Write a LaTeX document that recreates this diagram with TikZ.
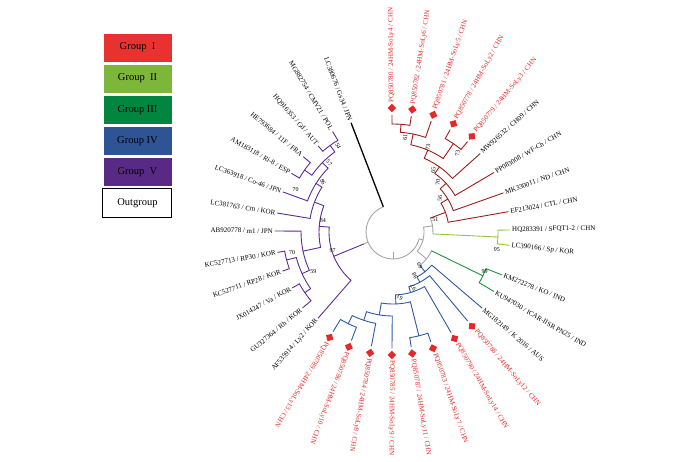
\documentclass[tikz,border=0pt]{standalone}
\usepackage{fontspec}
\setmainfont{Liberation Serif}
\definecolor{redI}{RGB}{230,40,40}
\definecolor{legI}{RGB}{232,50,48}
\definecolor{legII}{RGB}{124,182,58}
\definecolor{legIII}{RGB}{0,134,62}
\definecolor{legIV}{RGB}{46,84,150}
\definecolor{legV}{RGB}{88,42,134}
\definecolor{brI}{RGB}{158,30,30}
\definecolor{brII}{RGB}{141,198,63}
\definecolor{brIII}{RGB}{22,150,62}
\definecolor{brIV}{RGB}{46,90,160}
\definecolor{brV}{RGB}{92,45,145}
\definecolor{rootgray}{RGB}{165,165,165}

\begin{document}
\begin{tikzpicture}[x=1pt,y=1pt,
  legbox/.style={draw=white, line width=0.6pt, minimum width=69pt, minimum height=29pt, inner sep=0pt, font=\fontsize{10.5}{12}\selectfont},
  bI/.style={draw=brI, line width=0.9pt, line cap=round},
  bII/.style={draw=brII, line width=0.9pt, line cap=round},
  bIII/.style={draw=brIII, line width=0.9pt, line cap=round},
  bIV/.style={draw=brIV, line width=0.9pt, line cap=round},
  bV/.style={draw=brV, line width=0.9pt, line cap=round},
  bR/.style={draw=rootgray, line width=0.9pt, line cap=round},
  lf/.style={font=\fontsize{7}{8}\selectfont, inner sep=1pt},
  pq/.style={lf, text=redI},
  dm/.style={fill=redI, rectangle, minimum size=6pt, inner sep=0pt},
  bs/.style={font=\fontsize{6}{7}\selectfont, inner sep=0.5pt}]
  \useasboundingbox (-393,-229) rectangle (307,232);

  \node[legbox, fill=legI] (legI) at (-255.5,184.5) {Group\ \ I};
  \node[legbox, fill=legII] (legII) at (-255.5,153.4) {Group\ \ II};
  \node[legbox, fill=legIII] (legIII) at (-255.5,122.3) {Group\ III};
  \node[legbox, fill=legIV] (legIV) at (-255.5,91.2) {Group\ IV};
  \node[legbox, fill=legV] (legV) at (-255.5,60.1) {Group\ \ V};
  \node[legbox, draw=black, line width=1pt, fill=white] (legOut) at (-255.5,29) {Outgroup};

  \draw[bR] (270:20) -- (270:27);
  \draw[bR] (111:27) arc[start angle=111, end angle=345.15, radius=27];
  \draw[line width=1.3pt] (111:27) -- (111:117);
  \draw[bR] (-14.85:27) -- (-14.85:31);
  \draw[bR] (-38.6:31) arc[start angle=-38.6, end angle=8.9, radius=31];
  \draw[bR] (8.9:31) -- (8.9:40);
  \draw[bR] (-2.75:40) arc[start angle=-2.75, end angle=20.5, radius=40];
  \draw[bR] (-38.6:31) -- (-38.6:43);
  \draw[bR] (-51.2:43) arc[start angle=-51.2, end angle=-26, radius=43];
  \draw[bR] (202.3:27) -- (202.3:32);

  \draw[bI] (20.5:40) -- (20.5:56);
  \draw[bI] (10:56) arc[start angle=10, end angle=31, radius=56];
  \draw[bI] (10:56) -- (10:117);
  \draw[bI] (31:56) -- (31:64);
  \draw[bI] (19.5:64) arc[start angle=19.5, end angle=42.5, radius=64];
  \draw[bI] (19.5:64) -- (19.5:117);
  \draw[bI] (42.5:64) -- (42.5:72);
  \draw[bI] (30.5:72) arc[start angle=30.5, end angle=54.5, radius=72];
  \draw[bI] (30.5:72) -- (30.5:117);
  \draw[bI] (54.5:72) -- (54.5:80);
  \draw[bI] (42:80) arc[start angle=42, end angle=67, radius=80];
  \draw[bI] (42:80) -- (42:117);
  \draw[bI] (67:80) -- (67:89);
  \draw[bI] (55.65:89) arc[start angle=55.65, end angle=78.4, radius=89];
  \draw[bI] (55.65:89) -- (55.65:107);
  \draw[bI] (50.5:107) arc[start angle=50.5, end angle=60.8, radius=107];
  \draw[bI] (50.5:107) -- (50.5:117);
  \draw[bI] (60.8:107) -- (60.8:117);
  \draw[bI] (78.4:89) -- (78.4:100);
  \draw[bI] (71:100) arc[start angle=71, end angle=85.75, radius=100];
  \draw[bI] (71:100) -- (71:117);
  \draw[bI] (85.75:100) -- (85.75:108);
  \draw[bI] (81:108) arc[start angle=81, end angle=90.5, radius=108];
  \draw[bI] (81:108) -- (81:117);
  \draw[bI] (90.5:108) -- (90.5:117);

  \draw[bII] (-2.75:40) -- (-2.75:105);
  \draw[bII] (-6.5:105) arc[start angle=-6.5, end angle=1, radius=105];
  \draw[bII] (1:105) -- (1:117);
  \draw[bII] (-6.5:105) -- (-6.5:117);

  \draw[bIII] (-26:43) -- (-26:100);
  \draw[bIII] (-30.5:100) arc[start angle=-30.5, end angle=-21.5, radius=100];
  \draw[bIII] (-21.5:100) -- (-21.5:117);
  \draw[bIII] (-30.5:100) -- (-30.5:117);

  \draw[bIV] (-51.2:43) -- (-51.2:51);
  \draw[bIV] (-61.9:51) arc[start angle=-61.9, end angle=-40.5, radius=51];
  \draw[bIV] (-40.5:51) -- (-40.5:117);
  \draw[bIV] (-61.9:51) -- (-61.9:57);
  \draw[bIV] (-73.85:57) arc[start angle=-73.85, end angle=-50, radius=57];
  \draw[bIV] (-50:57) -- (-50:116);
  \draw[bIV] (-73.85:57) -- (-73.85:63);
  \draw[bIV] (-87.7:63) arc[start angle=-87.7, end angle=-60, radius=63];
  \draw[bIV] (-60:63) -- (-60:116);
  \draw[bIV] (-87.7:63) -- (-87.7:72);
  \draw[bIV] (-99.4:72) arc[start angle=-99.4, end angle=-76, radius=72];
  \draw[bIV] (-76:72) -- (-76:107);
  \draw[bIV] (-81:107) arc[start angle=-81, end angle=-71, radius=107];
  \draw[bIV] (-71:107) -- (-71:116);
  \draw[bIV] (-81:107) -- (-81:116);
  \draw[bIV] (-99.4:72) -- (-99.4:84);
  \draw[bIV] (-108.35:84) arc[start angle=-108.35, end angle=-90.5, radius=84];
  \draw[bIV] (-90.5:84) -- (-90.5:116);
  \draw[bIV] (-108.35:84) -- (-108.35:93);
  \draw[bIV] (-116:93) arc[start angle=-116, end angle=-100.7, radius=93];
  \draw[bIV] (-100.7:93) -- (-100.7:116);
  \draw[bIV] (-116:93) -- (-116:102);
  \draw[bIV] (-121:102) arc[start angle=-121, end angle=-111, radius=102];
  \draw[bIV] (-111:102) -- (-111:116);
  \draw[bIV] (-121:102) -- (-121:116);

  \draw[bV] (202.3:32) -- (202.3:64);
  \draw[bV] (175.6:64) arc[start angle=175.6, end angle=229, radius=64];
  \draw[bV] (229:64) -- (229:114);
  \draw[bV] (175.6:64) -- (175.6:74);
  \draw[bV] (159.2:74) arc[start angle=159.2, end angle=192, radius=74];
  \draw[bV] (192:74) -- (192:92);
  \draw[bV] (179.5:92) arc[start angle=179.5, end angle=204.6, radius=92];
  \draw[bV] (179.5:92) -- (179.5:118);
  \draw[bV] (204.6:92) -- (204.6:100);
  \draw[bV] (194.75:100) arc[start angle=194.75, end angle=214.5, radius=100];
  \draw[bV] (194.75:100) -- (194.75:110);
  \draw[bV] (190:110) arc[start angle=190, end angle=199.5, radius=110];
  \draw[bV] (190:110) -- (190:117);
  \draw[bV] (199.5:110) -- (199.5:117);
  \draw[bV] (214.5:100) -- (214.5:107);
  \draw[bV] (209:107) arc[start angle=209, end angle=220, radius=107];
  \draw[bV] (209:107) -- (209:115);
  \draw[bV] (220:107) -- (220:118);
  \draw[bV] (159.2:74) -- (159.2:84);
  \draw[bV] (147.75:84) arc[start angle=147.75, end angle=170.7, radius=84];
  \draw[bV] (170.7:84) -- (170.7:117);
  \draw[bV] (147.75:84) -- (147.75:91);
  \draw[bV] (135.5:91) arc[start angle=135.5, end angle=160, radius=91];
  \draw[bV] (160:91) -- (160:117);
  \draw[bV] (135.5:91) -- (135.5:99);
  \draw[bV] (126:99) arc[start angle=126, end angle=145, radius=99];
  \draw[bV] (126:99) -- (126:107);
  \draw[bV] (121:107) arc[start angle=121, end angle=131, radius=107];
  \draw[bV] (121:107) -- (121:117);
  \draw[bV] (131:107) -- (131:114);
  \draw[bV] (145:99) -- (145:108);
  \draw[bV] (140:108) arc[start angle=140, end angle=150, radius=108];
  \draw[bV] (140:108) -- (140:117);
  \draw[bV] (150:108) -- (150:117);

  \node[dm, rotate=135.5] (d780) at (90.5:124) {};
  \node[dm, rotate=126] (d782) at (81:124) {};
  \node[dm, rotate=116] (d781) at (71:124) {};
  \node[dm, rotate=105.8] (d778) at (60.8:124) {};
  \node[dm, rotate=95.5] (d779) at (50.5:124) {};
  \node[dm, rotate=-5] (d788) at (-50:123) {};
  \node[dm, rotate=-15] (d790) at (-60:123) {};
  \node[dm, rotate=-26] (d783) at (-71:123) {};
  \node[dm, rotate=-36] (d787) at (-81:123) {};
  \node[dm, rotate=-45.5] (d785) at (-90.5:123) {};
  \node[dm, rotate=-55.7] (d784) at (-100.7:123) {};
  \node[dm, rotate=-66] (d786) at (-111:123) {};
  \node[dm, rotate=-76] (d789) at (-121:123) {};

  \node[pq, rotate=90.5, anchor=west] (pq780) at (90.5:128.5) {PQ850780 / 24HM-SoLy4 / CHN};
  \node[pq, rotate=81, anchor=west] (pq782) at (81:128.5) {PQ850782 / 24HM-SoLy6 / CHN};
  \node[pq, rotate=71, anchor=west] (pq781) at (71:128.5) {PQ850781 / 24HM-SoLy5 / CHN};
  \node[pq, rotate=60.8, anchor=west] (pq778) at (60.8:128.5) {PQ850778 / 24HM-SoLy2 / CHN};
  \node[pq, rotate=50.5, anchor=west] (pq779) at (50.5:128.5) {PQ850779 / 24HM-SoLy3 / CHN};
  \node[lf, rotate=42, anchor=west] (mw926532) at (42:118) {MW926532 / CH09 / CHN};
  \node[lf, rotate=30.5, anchor=west] (pp083008) at (30.5:118) {PP083008 / WF-Ch / CHN};
  \node[lf, rotate=19.5, anchor=west] (mk330011) at (19.5:118) {MK330011 / ND / CHN};
  \node[lf, rotate=10, anchor=west] (ef213024) at (10:118) {EF213024 / CTL / CHN};
  \node[lf, rotate=1, anchor=west] (hq283391) at (1:118) {HQ283391 / SFQT1-2 / CHN};
  \node[lf, rotate=-6.5, anchor=west] (lc390166) at (-6.5:118) {LC390166 / Sp / KOR};
  \node[lf, rotate=-21.5, anchor=west] (km272278) at (-21.5:118) {KM272278 / KO / IND};
  \node[lf, rotate=-30.5, anchor=west] (ku947030) at (-30.5:118) {KU947030 / ICAR-IISR PN25 / IND};
  \node[lf, rotate=-40.5, anchor=west] (mg182149) at (-40.5:118) {MG182149 / K 2016 / AUS};
  \node[pq, rotate=-50, anchor=west] (pq788) at (-50:127.5) {PQ850788 / 24HM-SoLy12 / CHN};
  \node[pq, rotate=-60, anchor=west] (pq790) at (-60:127.5) {PQ850790 / 24HM-SoLy14 / CHN};
  \node[pq, rotate=-71, anchor=west] (pq783) at (-71:127.5) {PQ850783 / 24HM-SoLy7 / CHN};
  \node[pq, rotate=-81, anchor=west] (pq787) at (-81:127.5) {PQ850787 / 24HM-SoLy11 / CHN};
  \node[pq, rotate=-90.5, anchor=west] (pq785) at (-90.5:127.5) {PQ850785 / 24HM-SoLy9 / CHN};
  \node[pq, rotate=-100.7, anchor=west] (pq784) at (-100.7:127.5) {PQ850784 / 24HM-SoLy8 / CHN};
  \node[pq, rotate=-111, anchor=west] (pq786) at (-111:127.5) {PQ850786 / 24HM-SoLy10 / CHN};
  \node[pq, rotate=-121, anchor=west] (pq789) at (-121:127.5) {PQ850789 / 24HM-SoLy13 / CHN};
  \node[lf, rotate=49, anchor=east] (af535914) at (229:115) {AF535914 / Ly2 / KOR};
  \node[lf, rotate=40, anchor=east] (gu327364) at (220:119) {GU327364 / Rh / KOR};
  \node[lf, rotate=29, anchor=east] (jx014247) at (209:116) {JX014247 / Va / KOR};
  \node[lf, rotate=19.5, anchor=east] (kc527711) at (199.5:118) {KC527711 / RP28 / KOR};
  \node[lf, rotate=10, anchor=east] (kc527713) at (190:118) {KC527713 / RP30 / KOR};
  \node[lf, rotate=-0.5, anchor=east] (ab920778) at (179.5:119) {AB920778 / m1 / JPN};
  \node[lf, rotate=-9.3, anchor=east] (lc381763) at (170.7:118) {LC381763 / Cm / KOR};
  \node[lf, rotate=-20, anchor=east] (lc363918) at (160:118) {LC363918 / Co-46 / JPN};
  \node[lf, rotate=-30, anchor=east] (am183118) at (150:118) {AM183118 / Ri-8 / ESP};
  \node[lf, rotate=-40, anchor=east] (he793684) at (140:118) {HE793684 / 11F / FRA};
  \node[lf, rotate=-49, anchor=east] (hq916353) at (131:115) {HQ916353 / Gd / AUT};
  \node[lf, rotate=-59, anchor=east] (mg882754) at (121:118) {MG882754 / CMV21 / POL};
  \node[lf, rotate=-69, anchor=east] (lc380676) at (111:118) {LC380676 / Gs34 / JPN};

  \node[bs, rotate=85] (bs61a) at (82.7:95) {61};
  \node[bs, rotate=85] (bs73a) at (67.6:92) {73};
  \node[bs, rotate=85] (bs73b) at (50.6:102) {73};
  \node[bs, rotate=85] (bs65) at (57:74) {65};
  \node[bs, rotate=85] (bs70a) at (48:67) {70};
  \node[bs, rotate=85] (bs56) at (36:58) {56};
  \node[bs] (bs51) at (16:44) {51};
  \node[bs] (bs95) at (-9.8:105.5) {95};
  \node[bs] (bs99) at (-23.5:100) {99};
  \node[bs, rotate=120] (bs69) at (-51.5:43) {69};
  \node[bs, rotate=120] (bs98) at (-63.4:49) {98};
  \node[bs, rotate=120] (bs97a) at (-70:59.5) {97};
  \node[bs, rotate=150] (bs61b) at (-84:66) {61};
  \node[bs, rotate=-65] (bs54) at (122.6:102) {54};
  \node[bs, rotate=-50] (bs57) at (132.8:94) {57};
  \node[bs, rotate=-65] (bs86) at (144.5:86) {86};
  \node[bs] (bs70b) at (156.6:106) {70};
  \node[bs] (bs84) at (171:71) {84};
  \node[bs] (bs97b) at (196.7:63) {97};
  \node[bs] (bs70c) at (191.7:103) {70};
  \node[bs] (bs59) at (206.6:89) {59};
\end{tikzpicture}
\end{document}
